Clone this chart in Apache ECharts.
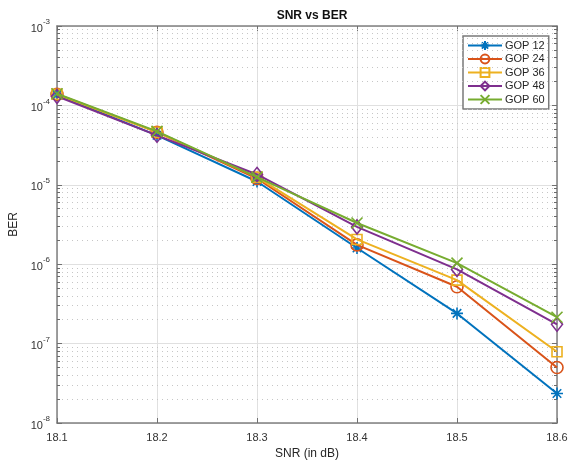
<!DOCTYPE html>
<html><head><meta charset="utf-8">
<script src="https://cdn.jsdelivr.net/npm/echarts@6/dist/echarts.min.js"></script>
<style>html,body{margin:0;padding:0;background:#fff}#c{width:571px;height:461px}</style>
</head><body><div id="c"></div>
<script>
var snr = [18.1, 18.2, 18.3, 18.4, 18.5, 18.6];
var seriesNames = ['GOP 12', 'GOP 24', 'GOP 36', 'GOP 48', 'GOP 60'];
var gop12 = [1.35e-4, 4.2e-5, 1.1e-5, 1.6e-6, 2.4e-7, 2.35e-8];
var gop24 = [1.38e-4, 4.6e-5, 1.2e-5, 1.75e-6, 5.2e-7, 5.0e-8];
var gop36 = [1.38e-4, 4.6e-5, 1.25e-5, 2.05e-6, 6.3e-7, 7.9e-8];
var gop48 = [1.3e-4, 4.2e-5, 1.35e-5, 2.95e-6, 8.6e-7, 1.75e-7];
var gop60 = [1.4e-4, 4.7e-5, 1.25e-5, 3.3e-6, 1.03e-6, 2.15e-7];
var yDecades = [-8, -7, -6, -5, -4, -3];
var xTicks = [18.1, 18.2, 18.3, 18.4, 18.5, 18.6];

var colors = ['#0072BD', '#D95319', '#EDB120', '#7E2F8E', '#77AC30'];
var allData = [gop12, gop24, gop36, gop48, gop60];
var symbols = [
  'path://M0,-10L0,10M-10,0L10,0M-7.07,-7.07L7.07,7.07M-7.07,7.07L7.07,-7.07',
  'circle', 'rect', 'diamond',
  'path://M-10,-10L10,10M-10,10L10,-10'
];
var symSizes = [12, 12, 10, [11, 14], 11];
var FONT = '"Liberation Sans", Arial, sans-serif';

var minorVals = [];
for (var d = 0; d < yDecades.length - 1; d++) {
  for (var m = 2; m <= 9; m++) minorVals.push(m * Math.pow(10, yDecades[d]));
}
var xMin = xTicks[0], xMax = xTicks[xTicks.length - 1];

var gridLines = minorVals.map(function (v) {
  return [{ coord: [xMin, v] }, { coord: [xMax, v] }];
});
var tickSegs = [];
minorVals.forEach(function (v) {
  tickSegs.push([{ coord: [xMin, v] }, { coord: [xMin + 0.003, v] }]);
  tickSegs.push([{ coord: [xMax - 0.003, v] }, { coord: [xMax, v] }]);
});

var series = allData.map(function (arr, i) {
  return {
    name: seriesNames[i], type: 'line',
    data: arr.map(function (v, j) { return [snr[j], v]; }),
    symbol: symbols[i], symbolSize: symSizes[i], showSymbol: true,
    lineStyle: { color: colors[i], width: 2 },
    itemStyle: { color: 'rgba(255,255,255,0)', borderColor: colors[i], borderWidth: 1.6 },
    emphasis: { disabled: true }, animation: false, z: 10 + i
  };
});
series[0].markLine = {
  silent: true, symbol: ['none', 'none'], label: { show: false }, animation: false,
  emphasis: { disabled: true },
  data: gridLines.map(function (seg) {
    return [Object.assign({ lineStyle: { color: '#c6c6c6', type: [1, 4], width: 1 } }, seg[0]), seg[1]];
  }).concat(tickSegs.map(function (seg) {
    return [Object.assign({ lineStyle: { color: '#6a6a6a', type: 'solid', width: 1 } }, seg[0]), seg[1]];
  }))
};

var axisLine = { show: true, lineStyle: { color: '#808080', width: 1.5 } };
var option = {
  backgroundColor: '#fff',
  animation: false,
  title: {
    text: 'SNR vs BER', left: 307, top: 5, textAlign: 'center',
    textStyle: { fontFamily: FONT, fontSize: 12, fontWeight: 'bold', color: '#111' }
  },
  grid: { left: 57, right: 14, top: 26, bottom: 38, containLabel: false, outerBoundsMode: 'none' },
  legend: {
    data: seriesNames, orient: 'vertical', left: 463, top: 36,
    itemWidth: 34, itemHeight: 11, itemGap: 2.5,
    padding: [4, 4, 4, 4],
    backgroundColor: '#fff', borderColor: '#7a7a7a', borderWidth: 1.5,
    textStyle: { fontFamily: FONT, fontSize: 11, color: '#262626', padding: [0, 0, 0, -2] }
  },
  xAxis: [{
    type: 'value', min: xMin, max: xMax, interval: 0.1,
    name: 'SNR (in dB)', nameLocation: 'middle', nameGap: 25,
    nameTextStyle: { fontFamily: FONT, fontSize: 12, color: '#262626' },
    axisLine: axisLine,
    axisTick: { show: true, inside: true, length: 5, lineStyle: { color: '#707070' } },
    axisLabel: { fontFamily: FONT, fontSize: 11, color: '#333', margin: 9,
      formatter: function (v) { return v.toFixed(1); } },
    splitLine: { show: true, lineStyle: { color: '#e0e0e0', width: 1 } }
  }, {
    type: 'value', position: 'top', min: xMin, max: xMax, interval: 0.1,
    axisLine: axisLine,
    axisTick: { show: true, inside: true, length: 5, lineStyle: { color: '#707070' } },
    axisLabel: { show: false }, splitLine: { show: false }
  }],
  yAxis: [{
    type: 'log', logBase: 10, min: 1e-8, max: 1e-3,
    name: 'BER', nameLocation: 'middle', nameGap: 32, nameRotate: 90,
    nameTextStyle: { fontFamily: FONT, fontSize: 12, color: '#262626' },
    axisLine: axisLine,
    axisTick: { show: true, inside: true, length: 5, lineStyle: { color: '#707070' } },
    axisLabel: {
      margin: 7, color: '#333',
      formatter: function (v) { return '{a|10}{b|' + Math.round(Math.log10(v)) + '}'; },
      rich: {
        a: { fontFamily: FONT, fontSize: 11, color: '#333', verticalAlign: 'bottom', lineHeight: 16 },
        b: { fontFamily: FONT, fontSize: 8, color: '#333', verticalAlign: 'top', lineHeight: 16, padding: [0, 0, 6, 0] }
      }
    },
    splitLine: { show: true, lineStyle: { color: '#e0e0e0', width: 1 } }
  }, {
    type: 'log', logBase: 10, min: 1e-8, max: 1e-3, position: 'right',
    axisLine: axisLine,
    axisTick: { show: true, inside: true, length: 5, lineStyle: { color: '#707070' } },
    axisLabel: { show: false }, splitLine: { show: false }
  }],
  series: series
};
var chart = echarts.init(document.getElementById('c'), null, { renderer: 'canvas' });
chart.setOption(option);
</script></body></html>
